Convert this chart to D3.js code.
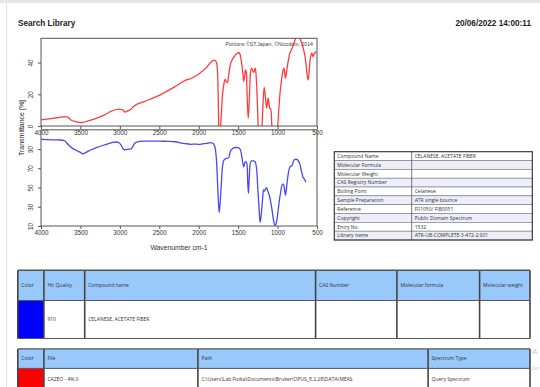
<!DOCTYPE html>
<html><head><meta charset="utf-8">
<script src="https://cdn.jsdelivr.net/npm/d3@7"></script>
<style>
html,body{margin:0;padding:0;background:#fff;}
svg{display:block;font-family:"Liberation Sans",Arial,sans-serif;}
</style></head>
<body><svg id="c" width="540" height="387"></svg>
<script>
// ---------- DATA ----------
const xTicks = [4000, 3500, 3000, 2500, 2000, 1500, 1000, 500];
const topYTicks = [0, 20, 40];
const bottomYTicks = [10, 30, 50, 70, 90];

// Query spectrum (red), wavenumber / transmittance
const redWn = [4000,3900,3800,3700,3660,3620,3560,3480,3400,3300,3200,3100,3020,2970,2935,2900,2860,2820,2780,2700,2600,2500,2400,2300,2200,2150,2100,2050,2000,1900,1850,1810,1790,1770,1758,1750,1745,1730,1720,1710,1700,1685,1665,1650,1635,1620,1600,1560,1520,1490,1475,1460,1440,1430,1420,1405,1395,1385,1372,1360,1345,1330,1315,1300,1290,1280,1270,1260,1250,1240,1215,1200,1190,1180,1170,1160,1150,1140,1130,1120,1110,1100,1090,1080,1070,1060,1010,1000,985,970,950,935,920,910,900,890,870,850,820,800,780,760,740,720,700,680,660,640,625,612,600,590,575,565,550,535,520,505];
const redT = [3.8,4.5,5.2,5.9,5.6,3.8,2.8,2.2,3.2,4.8,6.9,9.5,10.7,10.4,8.8,9.5,10.5,12.5,13.8,15.2,17.2,19.3,22,24.8,28,29.2,29.8,31.2,32.8,37,40,41.6,41.3,39,30,10,-4,-4,2,10,18.5,25,29.5,28,27.5,32,38.5,43,45.5,46.2,45,41,33,28,31,35.3,33,18,4.8,15,33,36.5,35,33.8,35.5,36.4,30,20,5,-4,-4,-2,8,18,24.4,21,16,11.5,14,17.5,15,11.2,11,8,-2,-4,-4,-1,10,20,29,34,36.4,34,30,33,39.5,44.8,48.5,51,54,57,57.5,56,53,50,45.9,39.5,32,29,34,40.6,45,45.9,43.7,45.5,46.5,47];

// Library hit spectrum (blue)
const blueWn = [4000,3850,3750,3700,3670,3650,3600,3550,3500,3470,3440,3400,3300,3200,3100,3050,3010,2985,2960,2940,2920,2890,2860,2840,2820,2790,2700,2500,2400,2300,2200,2150,2100,2050,2000,1950,1900,1850,1820,1800,1785,1770,1760,1750,1740,1730,1720,1710,1700,1680,1650,1620,1600,1570,1530,1500,1470,1455,1440,1430,1420,1410,1395,1385,1378,1370,1362,1350,1330,1310,1285,1270,1260,1250,1240,1230,1222,1212,1200,1190,1180,1165,1150,1140,1130,1120,1100,1085,1070,1050,1030,1015,1000,990,975,960,940,925,915,900,890,880,860,845,830,815,800,785,770,750,735,720,700,690,680,660,640];
const blueT = [100,99.6,99.4,98.6,96,94.2,90.7,88.5,86.5,85.1,86,87.9,91.4,94.2,96.6,97.3,96.5,94,90.5,89,89.5,90,90,92,95,97.3,98.3,98.3,98,97.6,95.9,95.5,94.9,95.2,94.9,95.4,95.9,96.6,96,93.4,88,72,52.6,35,24.2,32,44.6,58,70.6,78.6,80.3,81,87.2,90.5,91.6,91.4,89,83,75,71.6,74,76.8,76.5,72,55,44,55,73.4,77.8,77.8,76.8,72,63,48,35.2,22,13.8,18,28.4,38,47.4,46.4,48.8,49.8,47.6,45.6,40.4,34,26.6,15.2,10.3,13.5,21,28.4,38,45.6,53.3,53.5,50,42.2,47,54.4,66.4,71,72.2,73,76.8,79.2,79.6,79,77.5,75.1,68.2,64.5,61.2,58.8,55.4];

const infoLabels = ["Compound Name","Molecular Formula","Molecular Weight","CAS Registry Number","Boiling Point","Sample Preparation","Reference","Copyright","Entry No.","Library name"];
const infoValues = ["CELANESE, ACETATE FIBER","","","","Celanese","ATR single bounce","F01050/ FIB0051","Public Domain Spectrum","1532","ATR-UB-COMPLETE-3-472-2:S01"];

const hitHeaders = ["Color","Hit Quality","Compound name","CAS Number","Molecular formula","Molecular weight"];
const hitRow = ["","910","CELANESE, ACETATE FIBER","","",""];
const fileHeaders = ["Color","File","Path","Spectrum Type"];
const fileRow = ["","CAZEO - 4%.0","C:\\Users\\Lab Fisika\\Documents\\Bruker\\OPUS_8.2.28\\DATA\\MEAS","Query Spectrum"];

// ---------- DRAW ----------
const svg = d3.select("#c");
const txt = "#333";

// page edges
svg.append("rect").attr("x",0).attr("y",0).attr("width",540).attr("height",3).attr("fill","#e6e6e6");
svg.append("line").attr("x1",6.5).attr("x2",6.5).attr("y1",3).attr("y2",387).attr("stroke","#e2e2e2");

svg.append("text").attr("x",18).attr("y",25.5).attr("font-size",8.2).attr("font-weight","bold").attr("fill","#222").text("Search Library");
svg.append("text").attr("x",531).attr("y",25.5).attr("text-anchor","end").attr("font-size",8.2).attr("font-weight","bold").attr("fill","#222").text("20/06/2022  14:00:11");

const L = 41, R = 317;
const x = d3.scaleLinear().domain([4000, 500]).range([L, R]);

function plot(id, top, bottom, yDomain, yTicks, wn, t, color) {
  const y = d3.scaleLinear().domain(yDomain).range([bottom, top]);
  const g = svg.append("g");
  g.append("clipPath").attr("id", id).append("rect")
    .attr("x", L).attr("y", top).attr("width", R - L).attr("height", bottom - top);
  const pts = wn.map((w, i) => [w, t[i]]);
  const line = d3.line().x(d => x(d[0])).y(d => y(d[1])).curve(d3.curveMonotoneX);
  g.append("path").attr("d", line(pts)).attr("fill", "none").attr("stroke", color)
    .attr("stroke-width", 1.3).attr("clip-path", `url(#${id})`).attr("stroke-linejoin","round");
  g.append("rect").attr("x", L).attr("y", top).attr("width", R - L).attr("height", bottom - top)
    .attr("fill", "none").attr("stroke", "#555").attr("stroke-width", 1);
  const xa = g.append("g").attr("transform", `translate(0,${bottom})`)
    .call(d3.axisBottom(x).tickValues(xTicks).tickSize(3).tickPadding(2).tickFormat(d3.format("d")));
  xa.select(".domain").remove();
  xa.selectAll("line").attr("stroke", "#555");
  xa.selectAll("text").attr("font-size", 6.3).attr("fill", txt).attr("font-family", "Liberation Sans, Arial, sans-serif");
  const ya = g.append("g").attr("transform", `translate(${L},0)`)
    .call(d3.axisLeft(y).tickValues(yTicks).tickSize(3).tickPadding(2));
  ya.select(".domain").remove();
  ya.selectAll("line").attr("stroke", "#555");
  ya.selectAll("text").attr("font-size", 6.3).attr("fill", txt)
    .attr("font-family", "Liberation Sans, Arial, sans-serif")
    .attr("text-anchor", "middle").attr("dy", 0).attr("x", 0)
    .attr("transform", "translate(-8,0) rotate(-90)");
  return y;
}

plot("clipTop", 38.3, 126, [0, 55.3], topYTicks, redWn, redT, "#ff3b3b");
plot("clipBot", 129.8, 226, [10, 110], bottomYTicks, blueWn, blueT, "#4848f4");

svg.append("text").attr("x", 313).attr("y", 46).attr("text-anchor", "end").attr("font-size", 5.2)
  .attr("fill", "#444").text("Portions ©ST.Japan, ©Nicodom, 2014");
svg.append("text").attr("x", 179).attr("y", 249.5).attr("text-anchor", "middle").attr("font-size", 6.8)
  .attr("fill", txt).text("Wavenumber cm-1");
svg.append("text").attr("transform", "translate(23.5,128) rotate(-90)").attr("text-anchor", "middle")
  .attr("font-size", 7).attr("fill", "#222").text("Transmittance [%]");

// info table
(function(){
  const x0 = 334.3, x1 = 411.7, x2 = 532.3, y0 = 151.7, rh = (240 - 151.7) / infoLabels.length;
  const g = svg.append("g");
  infoLabels.forEach((lab, i) => {
    const yy = y0 + i * rh;
    g.append("rect").attr("x", x0).attr("y", yy).attr("width", x2 - x0).attr("height", rh)
      .attr("fill", i % 2 === 0 ? "#ffffff" : "#eceef9").attr("stroke", "#777").attr("stroke-width", 0.6);
    g.append("text").attr("x", x0 + 3).attr("y", yy + rh / 2 + 1.8).attr("font-size", 5).attr("fill", "#333")
      .attr("font-family", "Open Sans, sans-serif").text(lab);
    g.append("text").attr("x", x1 + 3).attr("y", yy + rh / 2 + 1.8).attr("font-size", 5).attr("fill", "#333")
      .attr("font-family", "Open Sans, sans-serif").text(infoValues[i]);
  });
  g.append("line").attr("x1", x1).attr("x2", x1).attr("y1", y0).attr("y2", 240).attr("stroke", "#555").attr("stroke-width", 0.8);
  g.append("rect").attr("x", x0).attr("y", y0).attr("width", x2 - x0).attr("height", 240 - y0)
    .attr("fill", "none").attr("stroke", "#444").attr("stroke-width", 1.2);
})();

function table(cols, top, mid, bottom, headers, row, fill, rowTextY) {
  const g = svg.append("g");
  const left = cols[0], right = cols[cols.length - 1];
  g.append("rect").attr("x", left).attr("y", top).attr("width", right - left).attr("height", mid - top).attr("fill", "#99c8fb");
  g.append("rect").attr("x", left).attr("y", mid).attr("width", right - left).attr("height", bottom - mid).attr("fill", "#fff");
  g.append("rect").attr("x", cols[0]).attr("y", mid).attr("width", cols[1] - cols[0]).attr("height", bottom - mid).attr("fill", fill);
  headers.forEach((h, i) => {
    g.append("text").attr("x", cols[i] + 3.5).attr("y", (top + mid) / 2 + 1.8).attr("font-size", 5)
      .attr("fill", "#333").attr("font-family", "Open Sans, sans-serif").text(h);
    g.append("text").attr("x", cols[i] + 3.5).attr("y", rowTextY).attr("font-size", 5)
      .attr("fill", "#333").attr("font-family", "Open Sans, sans-serif").text(row[i]);
  });
  cols.forEach(c => g.append("line").attr("x1", c).attr("x2", c).attr("y1", top).attr("y2", bottom)
    .attr("stroke", "#444").attr("stroke-width", 1.6));
  [top, mid, bottom].forEach(yy => g.append("line").attr("x1", left).attr("x2", right).attr("y1", yy).attr("y2", yy)
    .attr("stroke", "#555").attr("stroke-width", yy === top ? 1.4 : 1));
}

table([17.8, 43.9, 84.7, 315.6, 396.9, 479.6, 530], 270.3, 300.5, 338.5, hitHeaders, hitRow, "#0000ff", 321.3);
table([17.8, 43.9, 197.9, 428.1, 530], 348.9, 368.4, 395, fileHeaders, fileRow, "#ff0000", 380.8);

svg.append("text").attr("x", 532).attr("y", 354).attr("font-size", 8).attr("fill", "#c8c8c8").text("A");
svg.append("text").attr("x", 531.5).attr("y", 370).attr("font-size", 5.5).attr("fill", "#d0d0d0").text("Go");
</script></body></html>
